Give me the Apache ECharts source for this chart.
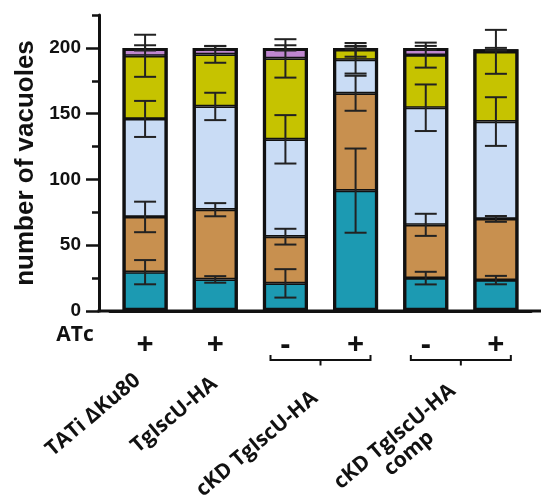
<!DOCTYPE html>
<html><head><meta charset="utf-8">
<script src="https://cdn.jsdelivr.net/npm/echarts@6/dist/echarts.min.js"></script>
<style>html,body{margin:0;padding:0;background:#fff}#c{width:541px;height:504px}</style>
</head><body><div id="c"></div>
<script>
// ---- data ----
const strains = ['TATi ΔKu80', 'TgIscU-HA', 'cKD TgIscU-HA', 'cKD TgIscU-HA\ncomp'];
const atc = ['+', '+', '-', '+', '-', '+'];
const categories = ['TATi ΔKu80 +', 'TgIscU-HA +', 'cKD TgIscU-HA -', 'cKD TgIscU-HA +', 'cKD TgIscU-HA comp -', 'cKD TgIscU-HA comp +'];
const segNames = ['teal', 'tan', 'light blue', 'yellow', 'purple'];
const teal = [29.5, 24, 21, 91.5, 25, 23.5];
const tan = [42, 53, 35.5, 74, 40.5, 46.5];
const lightBlue = [74.5, 78.5, 74, 25.5, 89, 74];
const yellow = [48, 39.5, 61.5, 7.5, 40, 53];
const purple = [6, 5, 8, 1.5, 5.5, 2];
const tealErr = [9.2, 2.5, 10.8, 32, 4.8, 3.2];
const tanErr = [11.6, 5, 6, 13.3, 8.4, 2.2];
const lightBlueErr = [13.7, 10.4, 18.4, 10.5, 17.7, 18.5];
const yellowErr = [16, 6.3, 14.6, 5.2, 9.5, 16.7];
const purpleErr = [2, 1.5, 2, 1, 1.5, 1];
const yLabelTicks = [0, 50, 100, 150, 200];
const yMax = 225;

const segValues = [teal, tan, lightBlue, yellow, purple];
const segErrs = [tealErr, tanErr, lightBlueErr, yellowErr, purpleErr];
const segColors = ['#1C9AB2', '#C8904F', '#C9DCF5', '#C6C300', '#BF87CF'];

const chart = echarts.init(document.getElementById('c'), null, {renderer: 'canvas'});

const series = [];
segValues.forEach((vals, s) => {
  series.push({
    name: segNames[s], type: 'bar', stack: 'total', data: vals,
    barWidth: 45, barGap: '-100%',
    itemStyle: {color: segColors[s], borderColor: '#111', borderWidth: 1.6},
    emphasis: {disabled: true}, z: 2
  });
});
// outline of each whole bar (sum of its segments)
const totals = categories.map((c, i) => segValues.reduce((a, v) => a + v[i], 0));
series.push({
  name: 'outline', type: 'bar', data: totals, barWidth: 45, barGap: '-100%',
  itemStyle: {color: 'rgba(0,0,0,0)', borderColor: '#111', borderWidth: 3.2},
  emphasis: {disabled: true}, z: 3, silent: true
});
const cum = categories.map(() => 0);
segValues.forEach((vals, s) => {
  const d = vals.map((v, i) => { cum[i] += v; return [i, cum[i], segErrs[s][i]]; });
  series.push({
    type: 'custom', name: segNames[s] + ' err', data: d, z: 10,
    encode: {x: 0, y: 1},
    renderItem: function (params, api) {
      const i = api.value(0), v = api.value(1), e = api.value(2);
      const top = api.coord([i, v + e]), bot = api.coord([i, v - e]);
      const x = top[0], hw = 11;
      const st = {stroke: '#222', lineWidth: 2};
      return {type: 'group', children: [
        {type: 'line', shape: {x1: x, y1: top[1], x2: x, y2: bot[1]}, style: st},
        {type: 'line', shape: {x1: x - hw, y1: top[1], x2: x + hw, y2: top[1]}, style: st},
        {type: 'line', shape: {x1: x - hw, y1: bot[1], x2: x + hw, y2: bot[1]}, style: st}
      ]};
    }
  });
});

const axisFont = 'Liberation Sans';
const botFont = 'Open Sans';
chart.setOption({
  animation: false,
  grid: {left: 110, right: 10, top: 15, bottom: 193},
  xAxis: {
    type: 'category', data: categories,
    axisLine: {lineStyle: {color: '#111', width: 3}},
    axisTick: {alignWithLabel: true, length: 12, lineStyle: {color: '#111', width: 3}},
    axisLabel: {
      formatter: (v, idx) => atc[idx], margin: 19,
      fontFamily: botFont, fontWeight: 'bold', fontSize: 30, color: '#111'
    }
  },
  yAxis: [{
    type: 'value', min: 0, max: yMax, interval: 25, offset: 11,
    name: 'number of vacuoles', nameLocation: 'middle', nameGap: 58,
    nameTextStyle: {fontFamily: axisFont, fontWeight: 'bold', fontSize: 26, color: '#111'},
    axisLine: {show: true, lineStyle: {color: '#111', width: 3}},
    axisTick: {show: true, length: 7, lineStyle: {color: '#111', width: 2.5}},
    axisLabel: {customValues: yLabelTicks, margin: 18, fontFamily: axisFont, fontWeight: 'bold', fontSize: 19, color: '#111'},
    splitLine: {show: false}
  }, {
    type: 'value', min: 0, max: yMax, interval: 25, offset: 11, position: 'left',
    axisLine: {show: false},
    axisTick: {show: true, customValues: yLabelTicks, length: 13, lineStyle: {color: '#111', width: 2.5}},
    axisLabel: {show: false}, splitLine: {show: false}
  }],
  series: series
});

// ---- annotations placed from the axes ----
const px = i => chart.convertToPixel({xAxisIndex: 0}, i);
const y0 = chart.convertToPixel({yAxisIndex: 0}, 0);
const yAxisX = px(0) - (px(1) - px(0)) / 2 - 11;
const rot = 40 * Math.PI / 180;
const txt = (text, x, y, size, r, lh) => ({
  type: 'text', x: x, y: y, rotation: r || 0,
  style: {text: text, x: 0, y: 0, textAlign: 'center', textVerticalAlign: 'middle',
    font: 'bold ' + size + 'px "' + botFont + '"', fill: '#111', lineHeight: lh || size}
});
const bracket = (a, b) => {
  const xa = px(a), xb = px(b), m = (xa + xb) / 2, hw = 50, yb = y0 + 49;
  const st = {stroke: '#111', lineWidth: 2, fill: null};
  return [
    {type: 'polyline', shape: {points: [[m - hw, yb - 5], [m - hw, yb], [m + hw, yb], [m + hw, yb - 5]]}, style: st},
    {type: 'line', shape: {x1: m, y1: yb, x2: m, y2: yb + 5.5}, style: st}
  ];
};
const labelAnchors = [px(0), px(1), (px(2) + px(3)) / 2, (px(4) + px(5)) / 2];
const labelOffsets = [[-52, 104], [-41, 104], [-63.5, 133], [-59, 134]];
const graphics = [
  {type: 'line', shape: {x1: yAxisX - 1.5, y1: y0, x2: 541, y2: y0}, style: {stroke: '#111', lineWidth: 3}},
  txt('ATc', 75, y0 + 24, 21)
].concat(bracket(2, 3), bracket(4, 5));
strains.forEach((s, k) => {
  graphics.push(txt(s, labelAnchors[k] + labelOffsets[k][0], y0 + labelOffsets[k][1], 21, rot, 22));
});
chart.setOption({graphic: graphics});
</script></body></html>
